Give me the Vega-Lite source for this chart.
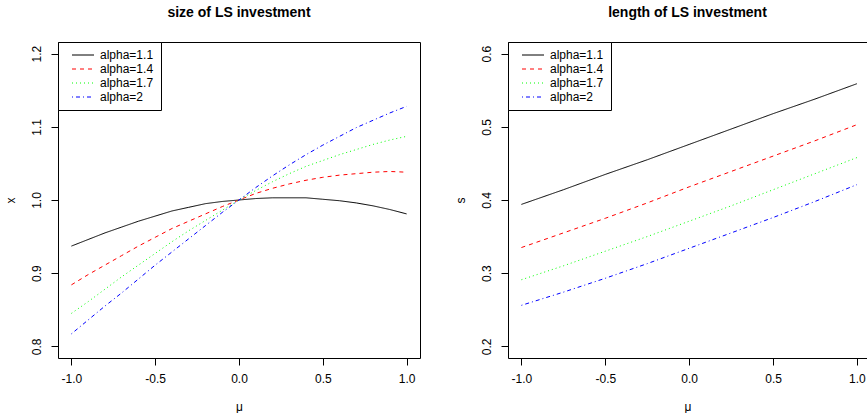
{
  "$schema": "https://vega.github.io/schema/vega-lite/v6.json",
  "background": "white",
  "padding": {"left": 3, "top": 5, "right": 0, "bottom": 0},
  "bounds": "flush",
  "spacing": 88,
  "config": {
    "font": "Liberation Sans",
    "view": {"stroke": "black", "strokeWidth": 1},
    "axis": {
      "grid": false, "domain": false,
      "tickColor": "black", "tickSize": 7, "tickWidth": 1,
      "labelFontSize": 12, "labelColor": "black", "labelPadding": 8,
      "labelExpr": "replace(format(datum.value, '.1f'), '\u2212', '-')",
      "titleFontSize": 12, "titleFontWeight": "normal", "titleColor": "black"
    },
    "axisX": {"titlePadding": 17},
    "axisY": {"titlePadding": 13},
    "title": {"fontSize": 14, "fontWeight": "bold", "color": "black", "offset": 22},
    "legend": {
      "orient": "none", "legendX": 0, "legendY": 0,
      "strokeColor": "black", "fillColor": "white", "cornerRadius": 0,
      "padding": 7, "symbolOffset": 12, "title": null,
      "symbolType": "M-5.5,0H5.5", "symbolSize": 16, "symbolStrokeWidth": 1,
      "labelFontSize": 12, "labelColor": "black", "labelOffset": 11,
      "rowPadding": 2
    }
  },
  "datasets": {
    "size": [
      {"mu": -1.0, "alpha": "alpha=1.1", "v": 0.937}, {"mu": -0.9, "alpha": "alpha=1.1", "v": 0.946},
      {"mu": -0.8, "alpha": "alpha=1.1", "v": 0.955}, {"mu": -0.7, "alpha": "alpha=1.1", "v": 0.963},
      {"mu": -0.6, "alpha": "alpha=1.1", "v": 0.971}, {"mu": -0.5, "alpha": "alpha=1.1", "v": 0.978},
      {"mu": -0.4, "alpha": "alpha=1.1", "v": 0.985}, {"mu": -0.3, "alpha": "alpha=1.1", "v": 0.990},
      {"mu": -0.2, "alpha": "alpha=1.1", "v": 0.995}, {"mu": -0.1, "alpha": "alpha=1.1", "v": 0.998},
      {"mu": 0.0, "alpha": "alpha=1.1", "v": 1.000}, {"mu": 0.1, "alpha": "alpha=1.1", "v": 1.002},
      {"mu": 0.2, "alpha": "alpha=1.1", "v": 1.003}, {"mu": 0.3, "alpha": "alpha=1.1", "v": 1.003},
      {"mu": 0.4, "alpha": "alpha=1.1", "v": 1.003}, {"mu": 0.5, "alpha": "alpha=1.1", "v": 1.001},
      {"mu": 0.6, "alpha": "alpha=1.1", "v": 0.999}, {"mu": 0.7, "alpha": "alpha=1.1", "v": 0.996},
      {"mu": 0.8, "alpha": "alpha=1.1", "v": 0.992}, {"mu": 0.9, "alpha": "alpha=1.1", "v": 0.987},
      {"mu": 1.0, "alpha": "alpha=1.1", "v": 0.981},

      {"mu": -1.0, "alpha": "alpha=1.4", "v": 0.884}, {"mu": -0.9, "alpha": "alpha=1.4", "v": 0.898},
      {"mu": -0.8, "alpha": "alpha=1.4", "v": 0.911}, {"mu": -0.7, "alpha": "alpha=1.4", "v": 0.924},
      {"mu": -0.6, "alpha": "alpha=1.4", "v": 0.937}, {"mu": -0.5, "alpha": "alpha=1.4", "v": 0.949},
      {"mu": -0.4, "alpha": "alpha=1.4", "v": 0.961}, {"mu": -0.3, "alpha": "alpha=1.4", "v": 0.971},
      {"mu": -0.2, "alpha": "alpha=1.4", "v": 0.981}, {"mu": -0.1, "alpha": "alpha=1.4", "v": 0.991},
      {"mu": 0.0, "alpha": "alpha=1.4", "v": 1.000}, {"mu": 0.1, "alpha": "alpha=1.4", "v": 1.009},
      {"mu": 0.2, "alpha": "alpha=1.4", "v": 1.016}, {"mu": 0.3, "alpha": "alpha=1.4", "v": 1.022},
      {"mu": 0.4, "alpha": "alpha=1.4", "v": 1.027}, {"mu": 0.5, "alpha": "alpha=1.4", "v": 1.031},
      {"mu": 0.6, "alpha": "alpha=1.4", "v": 1.034}, {"mu": 0.7, "alpha": "alpha=1.4", "v": 1.036},
      {"mu": 0.8, "alpha": "alpha=1.4", "v": 1.038}, {"mu": 0.9, "alpha": "alpha=1.4", "v": 1.039},
      {"mu": 1.0, "alpha": "alpha=1.4", "v": 1.038},

      {"mu": -1.0, "alpha": "alpha=1.7", "v": 0.845}, {"mu": -0.9, "alpha": "alpha=1.7", "v": 0.861},
      {"mu": -0.8, "alpha": "alpha=1.7", "v": 0.878}, {"mu": -0.7, "alpha": "alpha=1.7", "v": 0.895},
      {"mu": -0.6, "alpha": "alpha=1.7", "v": 0.911}, {"mu": -0.5, "alpha": "alpha=1.7", "v": 0.927},
      {"mu": -0.4, "alpha": "alpha=1.7", "v": 0.943}, {"mu": -0.3, "alpha": "alpha=1.7", "v": 0.958},
      {"mu": -0.2, "alpha": "alpha=1.7", "v": 0.972}, {"mu": -0.1, "alpha": "alpha=1.7", "v": 0.986},
      {"mu": 0.0, "alpha": "alpha=1.7", "v": 1.000}, {"mu": 0.1, "alpha": "alpha=1.7", "v": 1.013},
      {"mu": 0.2, "alpha": "alpha=1.7", "v": 1.025}, {"mu": 0.3, "alpha": "alpha=1.7", "v": 1.036},
      {"mu": 0.4, "alpha": "alpha=1.7", "v": 1.046}, {"mu": 0.5, "alpha": "alpha=1.7", "v": 1.054},
      {"mu": 0.6, "alpha": "alpha=1.7", "v": 1.062}, {"mu": 0.7, "alpha": "alpha=1.7", "v": 1.069},
      {"mu": 0.8, "alpha": "alpha=1.7", "v": 1.076}, {"mu": 0.9, "alpha": "alpha=1.7", "v": 1.082},
      {"mu": 1.0, "alpha": "alpha=1.7", "v": 1.087},

      {"mu": -1.0, "alpha": "alpha=2", "v": 0.817}, {"mu": -0.9, "alpha": "alpha=2", "v": 0.836},
      {"mu": -0.8, "alpha": "alpha=2", "v": 0.855}, {"mu": -0.7, "alpha": "alpha=2", "v": 0.873},
      {"mu": -0.6, "alpha": "alpha=2", "v": 0.892}, {"mu": -0.5, "alpha": "alpha=2", "v": 0.911},
      {"mu": -0.4, "alpha": "alpha=2", "v": 0.929}, {"mu": -0.3, "alpha": "alpha=2", "v": 0.947},
      {"mu": -0.2, "alpha": "alpha=2", "v": 0.965}, {"mu": -0.1, "alpha": "alpha=2", "v": 0.983},
      {"mu": 0.0, "alpha": "alpha=2", "v": 1.000}, {"mu": 0.1, "alpha": "alpha=2", "v": 1.017},
      {"mu": 0.2, "alpha": "alpha=2", "v": 1.033}, {"mu": 0.3, "alpha": "alpha=2", "v": 1.048},
      {"mu": 0.4, "alpha": "alpha=2", "v": 1.062}, {"mu": 0.5, "alpha": "alpha=2", "v": 1.075},
      {"mu": 0.6, "alpha": "alpha=2", "v": 1.087}, {"mu": 0.7, "alpha": "alpha=2", "v": 1.099},
      {"mu": 0.8, "alpha": "alpha=2", "v": 1.109}, {"mu": 0.9, "alpha": "alpha=2", "v": 1.119},
      {"mu": 1.0, "alpha": "alpha=2", "v": 1.128}
    ],
    "length": [
      {"mu": -1.0, "alpha": "alpha=1.1", "v": 0.394}, {"mu": -0.75, "alpha": "alpha=1.1", "v": 0.414},
      {"mu": -0.5, "alpha": "alpha=1.1", "v": 0.435}, {"mu": -0.25, "alpha": "alpha=1.1", "v": 0.455},
      {"mu": 0.0, "alpha": "alpha=1.1", "v": 0.476}, {"mu": 0.25, "alpha": "alpha=1.1", "v": 0.497},
      {"mu": 0.5, "alpha": "alpha=1.1", "v": 0.518}, {"mu": 0.75, "alpha": "alpha=1.1", "v": 0.538},
      {"mu": 1.0, "alpha": "alpha=1.1", "v": 0.559},

      {"mu": -1.0, "alpha": "alpha=1.4", "v": 0.335}, {"mu": -0.75, "alpha": "alpha=1.4", "v": 0.355},
      {"mu": -0.5, "alpha": "alpha=1.4", "v": 0.375}, {"mu": -0.25, "alpha": "alpha=1.4", "v": 0.396},
      {"mu": 0.0, "alpha": "alpha=1.4", "v": 0.418}, {"mu": 0.25, "alpha": "alpha=1.4", "v": 0.439},
      {"mu": 0.5, "alpha": "alpha=1.4", "v": 0.460}, {"mu": 0.75, "alpha": "alpha=1.4", "v": 0.481},
      {"mu": 1.0, "alpha": "alpha=1.4", "v": 0.503},

      {"mu": -1.0, "alpha": "alpha=1.7", "v": 0.291}, {"mu": -0.75, "alpha": "alpha=1.7", "v": 0.310},
      {"mu": -0.5, "alpha": "alpha=1.7", "v": 0.330}, {"mu": -0.25, "alpha": "alpha=1.7", "v": 0.350},
      {"mu": 0.0, "alpha": "alpha=1.7", "v": 0.371}, {"mu": 0.25, "alpha": "alpha=1.7", "v": 0.392},
      {"mu": 0.5, "alpha": "alpha=1.7", "v": 0.414}, {"mu": 0.75, "alpha": "alpha=1.7", "v": 0.436},
      {"mu": 1.0, "alpha": "alpha=1.7", "v": 0.458},

      {"mu": -1.0, "alpha": "alpha=2", "v": 0.256}, {"mu": -0.75, "alpha": "alpha=2", "v": 0.274},
      {"mu": -0.5, "alpha": "alpha=2", "v": 0.293}, {"mu": -0.25, "alpha": "alpha=2", "v": 0.313},
      {"mu": 0.0, "alpha": "alpha=2", "v": 0.334}, {"mu": 0.25, "alpha": "alpha=2", "v": 0.355},
      {"mu": 0.5, "alpha": "alpha=2", "v": 0.376}, {"mu": 0.75, "alpha": "alpha=2", "v": 0.398},
      {"mu": 1.0, "alpha": "alpha=2", "v": 0.421}
    ]
  },
  "resolve": {"scale": {"y": "independent"}, "legend": {"color": "independent"}},
  "hconcat": [
    {
      "title": "size of LS investment",
      "width": 362,
      "height": 316,
      "data": {"name": "size"},
      "mark": {"type": "line", "strokeWidth": 1, "clip": true},
      "encoding": {
        "x": {"field": "mu", "type": "quantitative", "title": "μ",
              "scale": {"domain": [-1.08, 1.08], "nice": false, "zero": false},
              "axis": {"values": [-1, -0.5, 0, 0.5, 1]}},
        "y": {"field": "v", "type": "quantitative", "title": "x",
              "scale": {"domain": [0.784, 1.216], "nice": false, "zero": false},
              "axis": {"values": [0.8, 0.9, 1.0, 1.1, 1.2], "labelAngle": -90}},
        "color": {"field": "alpha", "type": "nominal",
                  "scale": {"domain": ["alpha=1.1", "alpha=1.4", "alpha=1.7", "alpha=2"],
                            "range": ["#000000", "#FF0000", "#00FF00", "#0000FF"]},
                  "legend": {"encode": {"symbols": {"update": {"strokeDash": {"signal": "datum.value == 'alpha=1.4' ? [4, 4] : datum.value == 'alpha=1.7' ? [1, 3] : datum.value == 'alpha=2' ? [1, 3, 4, 3] : [1, 0]"}}}}}},
        "strokeDash": {"field": "alpha", "type": "nominal", "legend": null,
                       "scale": {"domain": ["alpha=1.1", "alpha=1.4", "alpha=1.7", "alpha=2"],
                                 "range": [[1, 0], [4, 4], [1, 3], [1, 3, 4, 3]]}}
      }
    },
    {
      "title": "length of LS investment",
      "width": 359,
      "height": 316,
      "data": {"name": "length"},
      "mark": {"type": "line", "strokeWidth": 1, "clip": true},
      "encoding": {
        "x": {"field": "mu", "type": "quantitative", "title": "μ",
              "scale": {"domain": [-1.08, 1.06], "nice": false, "zero": false},
              "axis": {"values": [-1, -0.5, 0, 0.5, 1]}},
        "y": {"field": "v", "type": "quantitative", "title": "s",
              "scale": {"domain": [0.184, 0.616], "nice": false, "zero": false},
              "axis": {"values": [0.2, 0.3, 0.4, 0.5, 0.6], "labelAngle": -90}},
        "color": {"field": "alpha", "type": "nominal",
                  "scale": {"domain": ["alpha=1.1", "alpha=1.4", "alpha=1.7", "alpha=2"],
                            "range": ["#000000", "#FF0000", "#00FF00", "#0000FF"]},
                  "legend": {"encode": {"symbols": {"update": {"strokeDash": {"signal": "datum.value == 'alpha=1.4' ? [4, 4] : datum.value == 'alpha=1.7' ? [1, 3] : datum.value == 'alpha=2' ? [1, 3, 4, 3] : [1, 0]"}}}}}},
        "strokeDash": {"field": "alpha", "type": "nominal", "legend": null,
                       "scale": {"domain": ["alpha=1.1", "alpha=1.4", "alpha=1.7", "alpha=2"],
                                 "range": [[1, 0], [4, 4], [1, 3], [1, 3, 4, 3]]}}
      }
    }
  ]
}
